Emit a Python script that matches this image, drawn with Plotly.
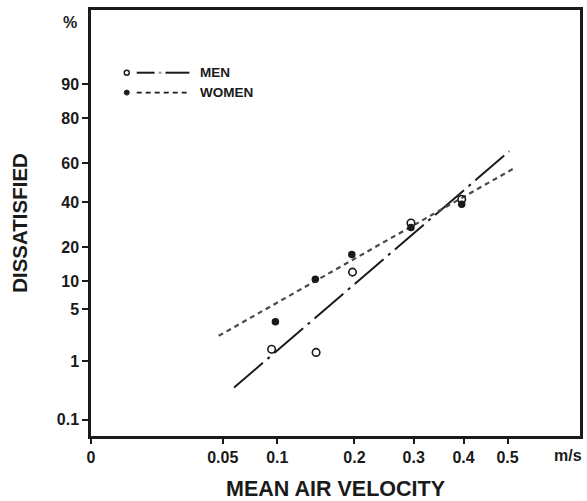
import math
from statistics import NormalDist
import plotly.graph_objects as go

# ---------------- data ----------------
men_velocity = [0.094, 0.146, 0.197, 0.295, 0.396]
men_dissatisfied = [1.5, 1.35, 12.2, 30.0, 41.5]
women_velocity = [0.098, 0.145, 0.196, 0.295, 0.396]
women_dissatisfied = [3.5, 10.4, 17.5, 28.0, 39.0]

men_fit_velocity = [0.059, 0.504]
men_fit_dissatisfied = [0.38, 65.9]
women_fit_velocity = [0.047, 0.516]
women_fit_dissatisfied = [2.3, 57.5]

x_tick_values = [0, 0.05, 0.1, 0.2, 0.3, 0.4, 0.5]
x_tick_labels = ["0", "0.05", "0.1", "0.2", "0.3", "0.4", "0.5"]
y_tick_values = [0.1, 1, 5, 10, 20, 40, 60, 80, 90]
y_tick_labels = ["0.1", "1", "5", "10", "20", "40", "60", "80", "90"]

x_range_velocity = [0.0, 0.689]
y_range_percent = [0.0482, 98.78]

# ---------------- scale transforms (sqrt velocity, probit %) ----------------
_nd = NormalDist()


def xs(v):
    return [math.sqrt(a) for a in v]


def ys(p):
    return [_nd.inv_cdf(a / 100.0) for a in p]


FONT = "Liberation Sans, Arial, Helvetica, sans-serif"
INK = "#1a1a1a"

W, H = 587, 501
# plot area in page pixels
L, R, T, B = 91, 583, 10, 438

fig = go.Figure()

fig.add_trace(go.Scatter(
    x=xs(men_fit_velocity), y=ys(men_fit_dissatisfied), mode="lines",
    line=dict(color=INK, width=2, dash="38px,6px,3px,6px"),
    showlegend=False, hoverinfo="skip"))
fig.add_trace(go.Scatter(
    x=xs(women_fit_velocity), y=ys(women_fit_dissatisfied), mode="lines",
    line=dict(color="#4a4a4a", width=2.2, dash="5px,4px"),
    showlegend=False, hoverinfo="skip"))
fig.add_trace(go.Scatter(
    x=xs(men_velocity), y=ys(men_dissatisfied), mode="markers",
    marker=dict(symbol="circle-open", size=7.5, color=INK, line=dict(width=1.6)),
    showlegend=False))
fig.add_trace(go.Scatter(
    x=xs(women_velocity), y=ys(women_dissatisfied), mode="markers",
    marker=dict(symbol="circle", size=7.5, color=INK),
    showlegend=False))


def px(x):
    return (x - L) / (R - L)


def py(y):
    return (B - y) / (B - T)


shapes = []
# men legend
shapes.append(dict(type="circle", xref="paper", yref="paper",
                   x0=px(124.5), x1=px(129.5), y0=py(75.5), y1=py(70.5),
                   line=dict(color=INK, width=1.4), fillcolor="white"))
shapes.append(dict(type="line", xref="paper", yref="paper",
                   x0=px(137), x1=px(155), y0=py(73), y1=py(73),
                   line=dict(color=INK, width=2)))
shapes.append(dict(type="line", xref="paper", yref="paper",
                   x0=px(159), x1=px(162), y0=py(73), y1=py(73),
                   line=dict(color="#999999", width=2)))
shapes.append(dict(type="line", xref="paper", yref="paper",
                   x0=px(166), x1=px(190), y0=py(73), y1=py(73),
                   line=dict(color=INK, width=2)))
# women legend
shapes.append(dict(type="circle", xref="paper", yref="paper",
                   x0=px(124.5), x1=px(129.5), y0=py(95.5), y1=py(90.5),
                   line=dict(color=INK, width=1), fillcolor=INK))
shapes.append(dict(type="line", xref="paper", yref="paper",
                   x0=px(137), x1=px(190), y0=py(93), y1=py(93),
                   line=dict(color=INK, width=1.8, dash="5px,4px")))

annotations = [
    dict(text="MEN", xref="paper", yref="paper", x=px(199), y=py(73),
         xanchor="left", yanchor="middle", showarrow=False,
         font=dict(family=FONT, size=13.5, color=INK, weight="bold")),
    dict(text="WOMEN", xref="paper", yref="paper", x=px(199), y=py(93),
         xanchor="left", yanchor="middle", showarrow=False,
         font=dict(family=FONT, size=13.5, color=INK, weight="bold")),
    dict(text="%", xref="paper", yref="paper", x=px(70), y=py(23),
         xanchor="center", yanchor="middle", showarrow=False,
         font=dict(family=FONT, size=16, color=INK, weight="bold")),
    dict(text="m/s", xref="paper", yref="paper", x=px(571), y=py(458),
         xanchor="center", yanchor="middle", showarrow=False,
         font=dict(family=FONT, size=16, color=INK, weight="bold")),
]

fig.update_layout(
    width=W, height=H,
    margin=dict(l=L, r=W - R, t=T, b=H - B),
    paper_bgcolor="white", plot_bgcolor="white",
    font=dict(family=FONT, color=INK),
    shapes=shapes, annotations=annotations,
    showlegend=False,
)

fig.update_xaxes(
    range=xs(x_range_velocity),
    tickmode="array", tickvals=xs(x_tick_values), ticktext=x_tick_labels,
    ticks="outside", ticklen=5, tickwidth=1.5, tickcolor=INK,
    showline=True, linewidth=2.5, linecolor=INK, mirror=True,
    showgrid=False, zeroline=False,
    tickfont=dict(family=FONT, size=16, color=INK, weight="bold"),
    title=dict(text="MEAN AIR VELOCITY", standoff=16,
               font=dict(family=FONT, size=21.5, color=INK, weight="bold")),
)
fig.update_yaxes(
    range=ys(y_range_percent),
    tickmode="array", tickvals=ys(y_tick_values), ticktext=y_tick_labels,
    ticks="outside", ticklen=6, tickwidth=1.5, tickcolor=INK,
    showline=True, linewidth=2.5, linecolor=INK, mirror=True,
    showgrid=False, zeroline=False,
    tickfont=dict(family=FONT, size=16, color=INK, weight="bold"),
    title=dict(text="DISSATISFIED", standoff=24,
               font=dict(family=FONT, size=20.5, color=INK, weight="bold")),
)

fig.write_html(
    "out.html",
    config={"displayModeBar": False},
    post_script="document.body.style.margin='0';document.body.style.overflow='hidden';",
)
